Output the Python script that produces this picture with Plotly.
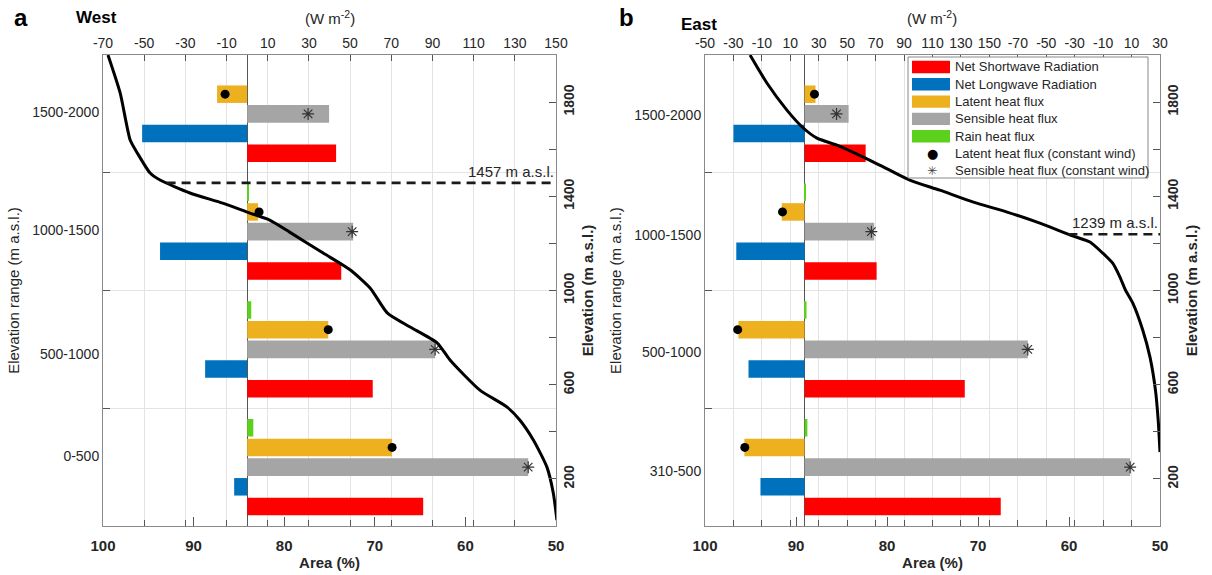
import numpy as np
import plotly.graph_objects as go

# ---------------- data ----------------
band_edges = [0, 500, 1000, 1500, 2000]
west_bands = ["0-500", "500-1000", "1000-1500", "1500-2000"]
east_bands = ["310-500", "500-1000", "1000-1500", "1500-2000"]

# West (W m-2), bands ordered low -> high
west_sw = [85.5, 61.0, 45.7, 43.2]
west_lw = [-6.3, -20.4, -42.3, -51.0]
west_lat = [70.4, 39.4, 5.3, -14.6]
west_sen = [136.5, 91.3, 51.5, 39.8]
west_rain = [3.0, 2.0, 0.5, 0.0]
west_lat_cw = [70.4, 39.4, 5.8, -10.7]
west_sen_cw = [136.5, 91.3, 51.0, 29.6]

# East (W m-2)
east_sw = [138.0, 112.7, 50.7, 43.0]
east_lw = [-31.0, -39.4, -48.0, -50.0]
east_lat = [-42.3, -46.5, -16.0, 7.7]
east_sen = [229.0, 157.0, 49.0, 31.0]
east_rain = [2.0, 1.4, 0.5, 0.0]
east_lat_cw = [-42.0, -47.0, -15.5, 7.0]
east_sen_cw = [229.0, 157.0, 47.0, 22.5]

# hypsometric curves (Area %, Elevation m a.s.l.)
west_area = [99.45, 98.1, 97.0, 96.2, 94.8, 93.7, 90.4, 86.8, 84.1, 81.6, 79.4, 75.7,
             72.7, 70.5, 68.6, 66.1, 63.1, 61.7, 58.4, 55.4, 54.0, 52.5, 51.0, 50.3, 49.9]
west_elev = [2000, 1838, 1639, 1583, 1499, 1469, 1414, 1371, 1333, 1299, 1248, 1159,
             1087, 1010, 904, 845, 777, 705, 577, 505, 450, 365, 250, 140, 25]
east_area = [95.05, 93.2, 91.0, 89.2, 87.7, 85.5, 82.6, 79.7, 77.5, 74.2, 70.5, 66.8,
             63.2, 59.6, 57.7, 56.3, 55.2, 54.4, 53.8, 53.0, 51.9, 51.1, 50.5, 50.2, 50.0]
east_elev = [2000, 1881, 1766, 1690, 1647, 1617, 1566, 1511, 1469, 1426, 1375, 1333,
             1286, 1232, 1206, 1159, 1116, 1057, 1002, 947, 832, 717, 577, 450, 314]
west_ela = 1457
east_ela = 1239

flux_ticks_west = list(range(-70, 151, 20))
flux_ticks_east = list(range(-70, 251, 20))
flux_ticklabels_east = ["-50", "-30", "-10", "10", "30", "50", "70", "90", "110", "130",
                        "150", "-70", "-50", "-30", "-10", "10", "30"]
area_ticks = [100, 90, 80, 70, 60, 50]
elev_ticks = [200, 600, 1000, 1400, 1800]
elev_minor = [400, 800, 1200, 1600]

legend_names = ["Net Shortwave Radiation", "Net Longwave Radiation", "Latent heat flux",
                "Sensible heat flux", "Rain heat flux", "Latent heat flux (constant wind)",
                "Sensible heat flux (constant wind)"]

# ---------------- style ----------------
C_SW = "#FF0000"
C_LW = "#0072BD"
C_LAT = "#EDB120"
C_SEN = "#A5A5A5"
C_RAIN = "#5CD11C"
FONT = "Arial, Liberation Sans, sans-serif"
TXT = "#262626"
FRAME = "#8a8a8a"
GRID = "#e3e3e3"
BARGAP = 0.164
GROUPGAP = 0.111
W, H = 1212, 575
# where the category labels of the left axis sit (m, as drawn in the original)
west_label_pos = [297, 729, 1258, 1758]
east_label_pos = [233, 737, 1237, 1746]

centers = [(a + b) / 2 for a, b in zip(band_edges[:-1], band_edges[1:])]
band_w = band_edges[1] - band_edges[0]
slot = band_w * (1 - BARGAP) / 5.0

fig = go.Figure()


def add_panel(n, sw, lw, lat, sen, rain, lat_cw, sen_cw, area, elev, ela,
              bands, label_pos, fx_ticks, fx_text, fx_range, xdom):
    xa = "x" if n == 0 else "x3"
    xb = "x2" if n == 0 else "x4"
    ya = "y" if n == 0 else "y3"
    yb = "y2" if n == 0 else "y4"
    # bars: bottom -> top within each band
    bar_specs = [(legend_names[0], sw, C_SW), (legend_names[1], lw, C_LW),
                 (legend_names[3], sen, C_SEN), (legend_names[2], lat, C_LAT),
                 (legend_names[4], rain, C_RAIN)]
    for name, vals, col in bar_specs:
        fig.add_trace(go.Bar(x=vals, y=centers, orientation="h", name=name,
                             marker=dict(color=col, line=dict(width=0)),
                             xaxis=xa, yaxis=ya, showlegend=False, hoverinfo="skip"))
    # constant-wind markers
    fig.add_trace(go.Scatter(x=lat_cw, y=[c + slot for c in centers], mode="markers",
                             name=legend_names[5],
                             marker=dict(symbol="circle", size=9, color="black"),
                             xaxis=xa, yaxis=ya, showlegend=False))
    fig.add_trace(go.Scatter(x=sen_cw, y=centers, mode="markers",
                             name=legend_names[6],
                             marker=dict(symbol="asterisk-open", size=10, color="#333333",
                                         line=dict(color="#333333", width=1.2)),
                             xaxis=xa, yaxis=ya, showlegend=False))
    # hypsometric curve
    fig.add_trace(go.Scatter(x=area, y=elev, mode="lines",
                             line=dict(color="black", width=3, shape="spline", smoothing=0.6),
                             xaxis=xb, yaxis=ya, showlegend=False, hoverinfo="skip"))
    # ELA dashed line
    x0 = float(np.interp(ela, elev[::-1], area[::-1]))
    fig.add_trace(go.Scatter(x=[x0, area_ticks[-1]], y=[ela, ela], mode="lines",
                             line=dict(color="#1a1a1a", width=2.6, dash="9px,6px"),
                             xaxis=xb, yaxis=ya, showlegend=False, hoverinfo="skip"))
    fig.add_annotation(x=area_ticks[-1], y=ela, xref=xb, yref=ya, text=f"{ela} m a.s.l.",
                       showarrow=False, xanchor="right", yanchor="bottom", yshift=1,
                       font=dict(size=15, color=TXT, family=FONT))
    # dummy on category axis
    fig.add_trace(go.Scatter(x=[], y=[], xaxis=xb, yaxis=yb, showlegend=False))

    ydom = [1 - 526 / H, 1 - 55 / H]
    sfx = "" if n == 0 else "3"
    sfx2 = "2" if n == 0 else "4"
    axis_common = dict(showline=True, linecolor=FRAME, linewidth=1, tickcolor="#555555",
                       ticks="inside", automargin=False, zeroline=False)
    fig.update_layout(**{
        "xaxis" + sfx: dict(axis_common, domain=xdom, side="top", anchor=ya,
                            range=fx_range, tickmode="array", tickvals=fx_ticks,
                            ticktext=fx_text, ticklen=6, mirror="ticks",
                            showgrid=True, gridcolor=GRID, gridwidth=1,
                            zeroline=True, zerolinecolor="#555555", zerolinewidth=1,
                            tickfont=dict(size=14, color=TXT, family=FONT)),
        "xaxis" + sfx2: dict(axis_common, overlaying=xa, side="bottom", anchor=ya,
                             range=[100, 50], tickmode="array", tickvals=area_ticks,
                             ticklen=9, showgrid=False, ticklabelstandoff=6,
                             tickfont=dict(size=15, color=TXT, family=FONT, weight="bold"),
                             title=dict(text="<b>Area (%)</b>", standoff=4,
                                        font=dict(size=15, color=TXT, family=FONT))),
        "yaxis" + sfx: dict(axis_common, domain=ydom, side="right", anchor=xa,
                            range=[0, 2000], tickmode="array", tickvals=elev_ticks,
                            tickangle=-90, ticklen=7, mirror=True, showgrid=False,
                            minor=dict(tickvals=elev_minor, ticks="inside", ticklen=7,
                                       tickcolor="#555555", showgrid=False),
                            tickfont=dict(size=14, color=TXT, family=FONT, weight="bold"),
                            title=dict(text="<b>Elevation (m a.s.l.)</b>", standoff=6,
                                       font=dict(size=15, color=TXT, family=FONT))),
        "yaxis" + sfx2: dict(axis_common, overlaying=ya, side="left", anchor=xa,
                             range=[0, 2000], tickmode="array", tickvals=label_pos,
                             ticktext=bands, ticks="", showgrid=False,
                             minor=dict(tickvals=band_edges[1:-1], ticks="inside", ticklen=7,
                                        tickcolor="#555555", showgrid=True,
                                        gridcolor=GRID, gridwidth=1),
                             tickfont=dict(size=14, color=TXT, family=FONT),
                             title=dict(text="Elevation range (m a.s.l.)", standoff=8,
                                        font=dict(size=15, color=TXT, family=FONT))),
    })


add_panel(0, west_sw, west_lw, west_lat, west_sen, west_rain, west_lat_cw, west_sen_cw,
          west_area, west_elev, west_ela, west_bands, west_label_pos, flux_ticks_west,
          [str(v) for v in flux_ticks_west], [-70, 150], [103 / W, 556 / W])
add_panel(1, east_sw, east_lw, east_lat, east_sen, east_rain, east_lat_cw, east_sen_cw,
          east_area, east_elev, east_ela, east_bands, east_label_pos, flux_ticks_east,
          flux_ticklabels_east, [-70, 250], [705 / W, 1160 / W])

# headers
hdr = [("a", 12, 18, 24), ("West", 74, 18, 17), ("b", 617, 18, 24), ("East", 679, 25, 17)]
for t, x, y, s in hdr:
    fig.add_annotation(x=x / W, y=1 - y / H, xref="paper", yref="paper", text=f"<b>{t}</b>",
                       showarrow=False, xanchor="left", yanchor="middle",
                       font=dict(size=s, color="black", family=FONT))
for cx in [330, 932]:
    fig.add_annotation(x=cx / W, y=1 - 18 / H, xref="paper", yref="paper",
                       text="(W m<sup>-2</sup>)", showarrow=False, xanchor="center",
                       yanchor="middle", font=dict(size=15, color=TXT, family=FONT))


# legend box (panel b), drawn as a key
def px(x):
    return x / W


def py(y):
    return 1 - y / H


shapes = [dict(type="rect", xref="paper", yref="paper", x0=px(908), x1=px(1148),
               y0=py(178), y1=py(57), fillcolor="white", line=dict(color="#888888", width=1),
               layer="above")]
key_colors = [C_SW, C_LW, C_LAT, C_SEN, C_RAIN]
row_y = [67 + 17.3 * i for i in range(7)]
for i, col in enumerate(key_colors):
    shapes.append(dict(type="rect", xref="paper", yref="paper", x0=px(912), x1=px(950),
                       y0=py(row_y[i] + 6.2), y1=py(row_y[i] - 6.2), fillcolor=col,
                       line=dict(width=0), layer="above"))
fig.update_layout(shapes=shapes)
for i, name in enumerate(legend_names):
    fig.add_annotation(x=px(953), y=py(row_y[i]), xref="paper", yref="paper", text=name,
                       showarrow=False, xanchor="left", yanchor="middle",
                       font=dict(size=13, color=TXT, family=FONT))
fig.add_annotation(x=px(932), y=py(row_y[5]), xref="paper", yref="paper", text="●",
                   showarrow=False, xanchor="center", yanchor="middle",
                   font=dict(size=13, color="black", family="DejaVu Sans"))
fig.add_annotation(x=px(932), y=py(row_y[6]), xref="paper", yref="paper", text="✳",
                   showarrow=False, xanchor="center", yanchor="middle",
                   font=dict(size=12, color="#444444", family="DejaVu Sans"))

fig.update_layout(
    width=W, height=H, margin=dict(l=0, r=0, t=0, b=0),
    paper_bgcolor="white", plot_bgcolor="white",
    barmode="group", bargap=BARGAP, bargroupgap=GROUPGAP,
    font=dict(family=FONT, color=TXT),
    showlegend=False,
)

fig.write_html("out.html", config={"displayModeBar": False},
               post_script="document.body.style.margin='0px';"
                           "document.body.style.overflow='hidden';")
